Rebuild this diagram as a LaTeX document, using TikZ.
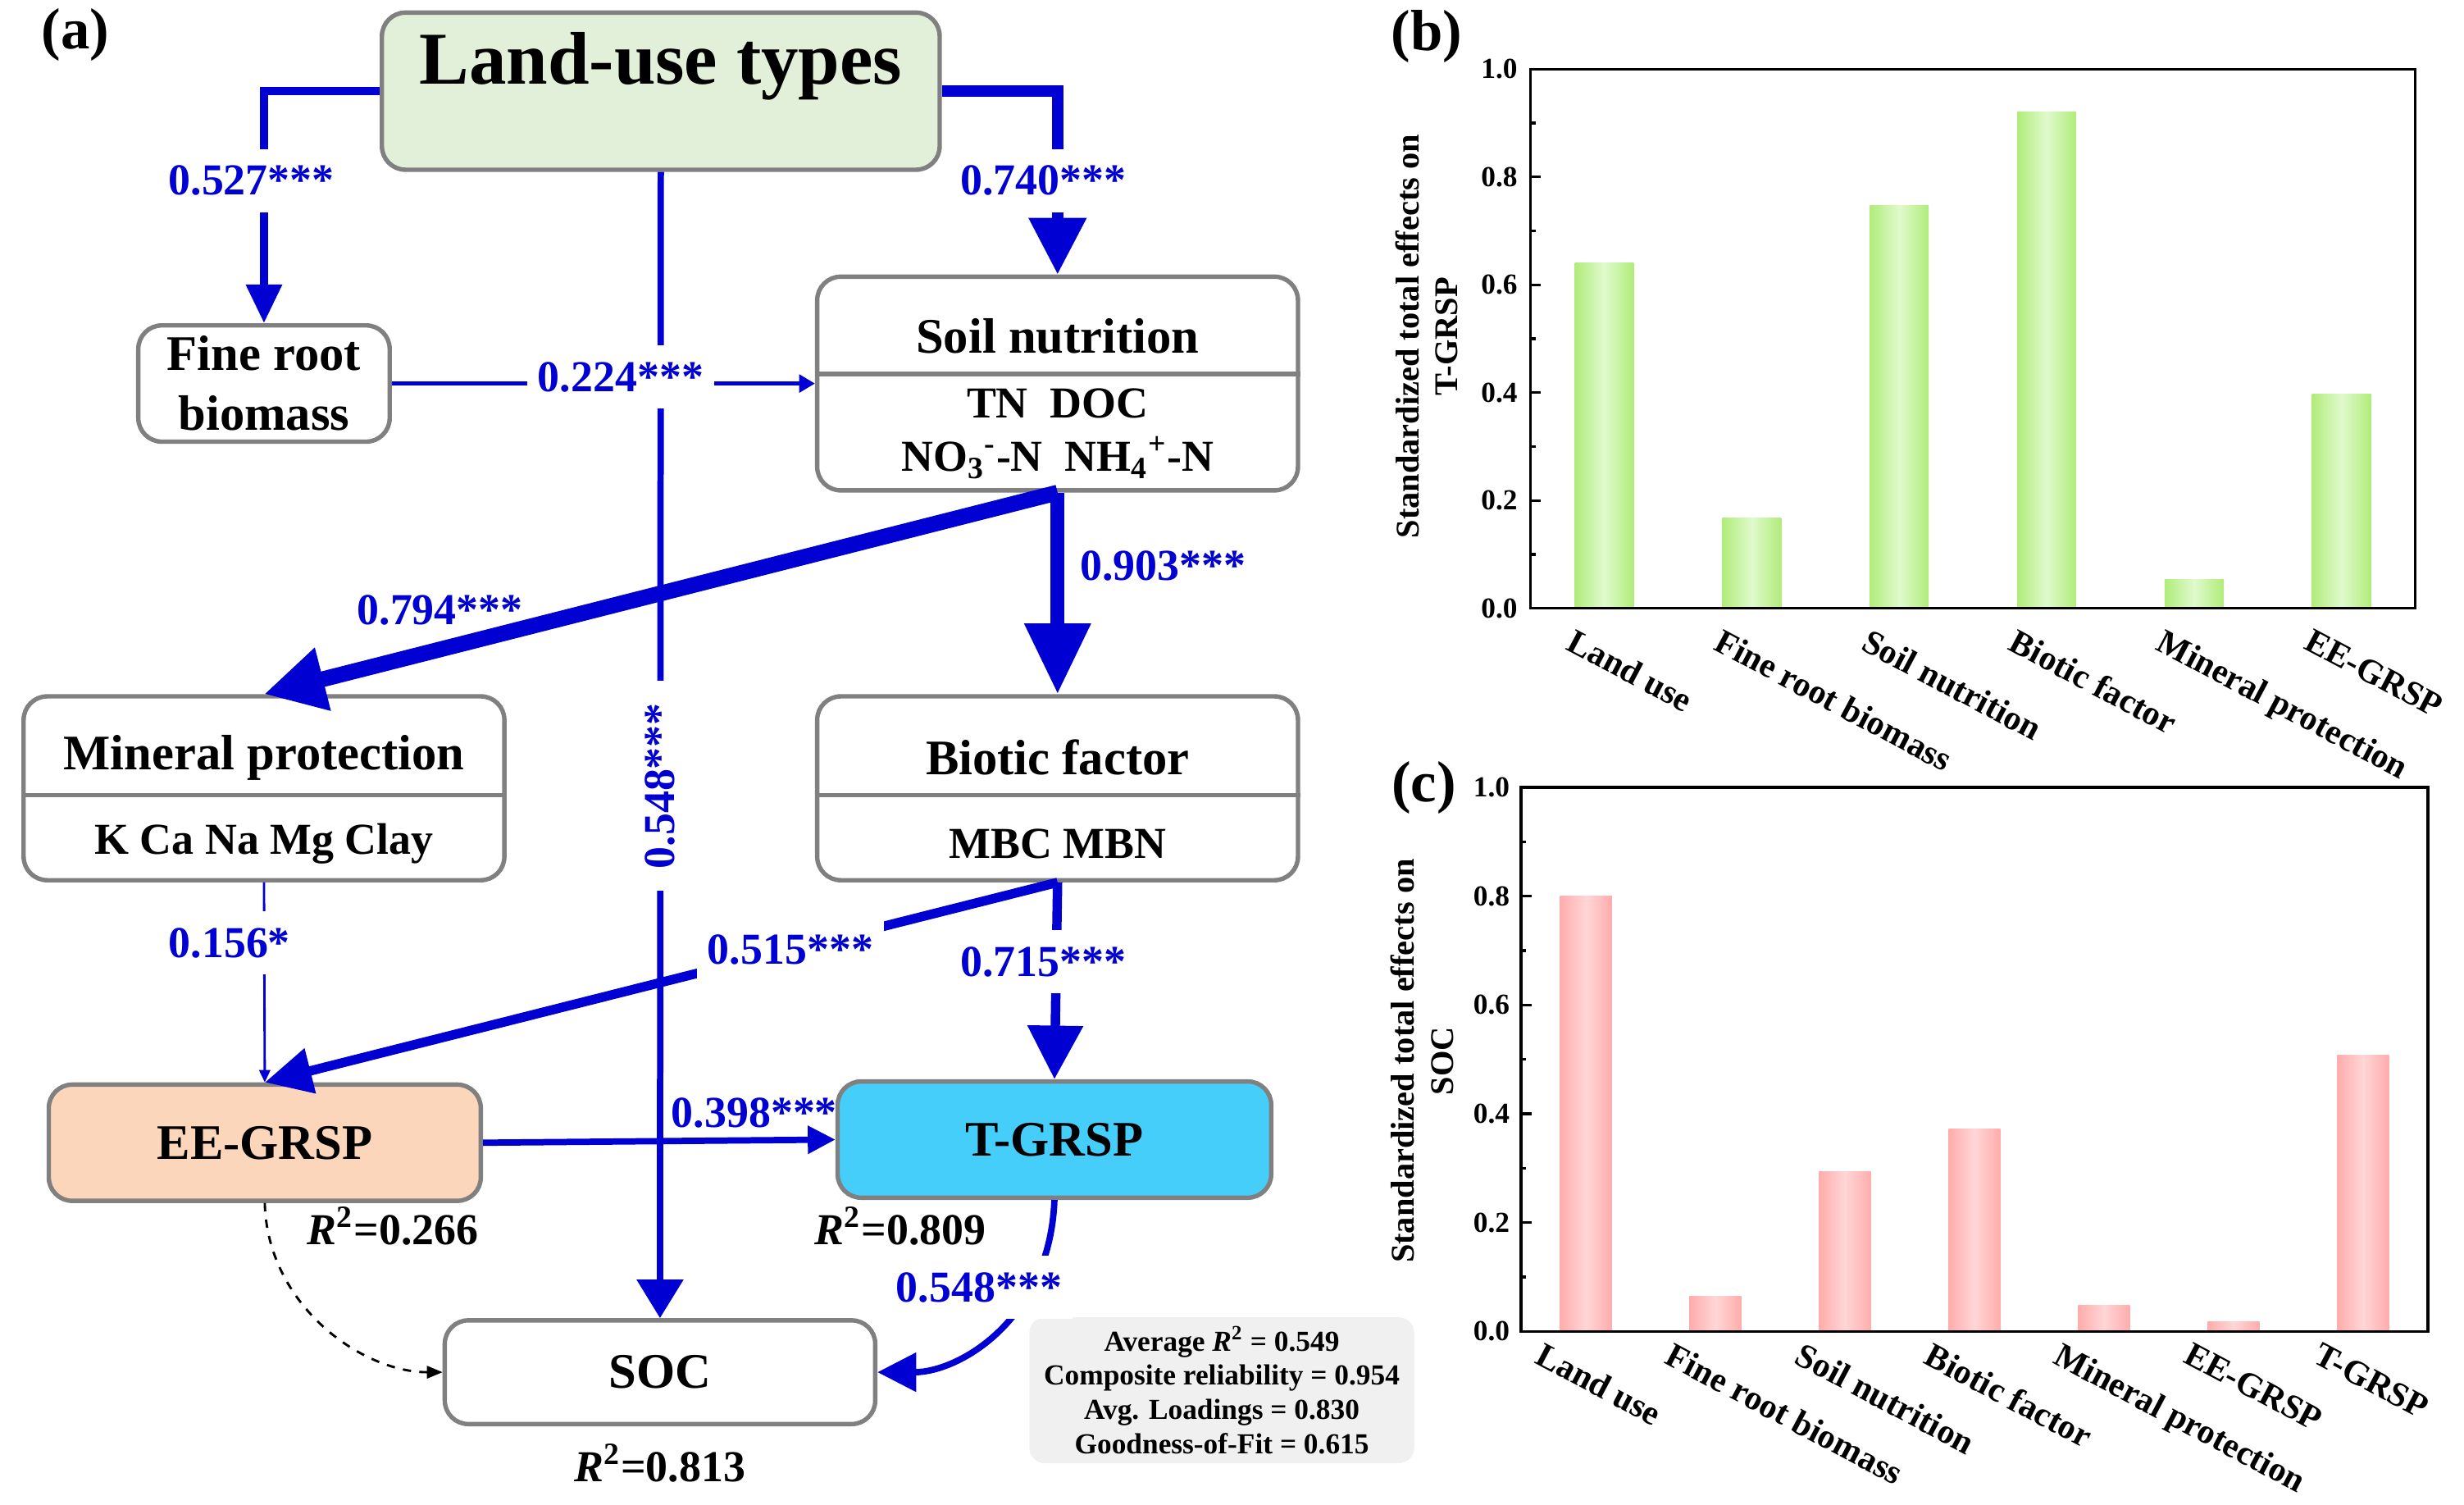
\documentclass[tikz,border=0pt]{standalone}
\usepackage{fontspec}
\setmainfont{Liberation Serif}
\usetikzlibrary{arrows.meta}
\definecolor{pathblue}{RGB}{0,0,210}
\definecolor{landfill}{RGB}{226,240,218}
\definecolor{eefill}{RGB}{251,214,186}
\definecolor{tfill}{RGB}{70,206,250}
\definecolor{boxline}{RGB}{128,128,128}
\definecolor{statfill}{RGB}{240,240,240}
\definecolor{bargreen}{RGB}{176,236,122}
\definecolor{barlightgreen}{RGB}{224,250,204}
\definecolor{barpink}{RGB}{255,172,172}
\definecolor{barlightpink}{RGB}{255,214,214}
\tikzset{
	latent/.style={draw=boxline, line width=1.6pt, rounded corners=0.3cm, inner sep=0pt, align=center, font=\fontsize{18}{21.6}\selectfont\bfseries},
	headtext/.style={font=\fontsize{18}{21.6}\selectfont\bfseries},
	indic/.style={align=center, font=\fontsize{16}{19.3}\selectfont\bfseries},
	coef/.style={text=pathblue, font=\fontsize{16}{19}\selectfont\bfseries},
	gap/.style={fill=white, inner xsep=4pt, inner ysep=6pt},
	rsq/.style={font=\fontsize{16}{19}\selectfont\bfseries},
	lnk/.style={draw=pathblue, line width=#1},
	cut/.style={draw=boxline, line width=1.6pt},
	panel/.style={font=\fontsize{21}{25}\selectfont\bfseries},
	ticklab/.style={anchor=east, inner sep=0pt, font=\fontsize{10.5}{12}\selectfont\bfseries},
	cat/.style={anchor=north west, rotate=-28, inner sep=0pt, font=\fontsize{12.5}{15}\selectfont\bfseries},
	ylab/.style={rotate=90, align=center, font=\fontsize{12}{14}\selectfont\bfseries},
	frame/.style={line width=1pt}
}
\begin{document}
\begin{tikzpicture}[x=0.02cm, y=-0.02cm]
	\useasboundingbox (0,0) rectangle (1568,957);

	\node[panel] (pa) at (48,22) {(a)};
	\node[latent, fill=landfill, minimum width=7.1cm, minimum height=2cm] (land) at (420.5,58) {};
	\node[font=\fontsize{27}{30}\selectfont\bfseries] (landtxt) at (420.5,42) {Land-use types};
	\node[latent, minimum width=3.2cm, minimum height=1.48cm] (fine) at (168,244) {Fine root\\biomass};

	\node[latent, minimum width=6.12cm, minimum height=2.72cm] (soil) at (673,244) {};
	\coordinate (soilcut) at (673,238);
	\draw[cut] (soil.west |- soilcut) -- (soil.east |- soilcut);
	\node[headtext] (soilname) at (673,214) {Soil nutrition};
	\node[indic] (soilvars) at (673,276) {TN\ \ DOC\\NO\textsubscript{3}\textsuperscript{-}-N\ \ NH\textsubscript{4}\textsuperscript{+}-N};

	\node[latent, minimum width=6.12cm, minimum height=2.34cm] (mineral) at (168,501.5) {};
	\coordinate (mineralcut) at (168,506);
	\draw[cut] (mineral.west |- mineralcut) -- (mineral.east |- mineralcut);
	\node[headtext] (mineralname) at (168,482) {Mineral protection};
	\node[indic] (mineralvars) at (168,537) {K Ca Na Mg Clay};

	\node[latent, minimum width=6.12cm, minimum height=2.34cm] (biotic) at (673,501.5) {};
	\coordinate (bioticcut) at (673,506);
	\draw[cut] (biotic.west |- bioticcut) -- (biotic.east |- bioticcut);
	\node[headtext] (bioticname) at (673,482) {Biotic factor};
	\node[indic] (bioticvars) at (673,537) {MBC MBN};

	\node[latent, fill=eefill, minimum width=5.5cm, minimum height=1.48cm] (ee) at (168.5,727) {EE-GRSP};
	\node[latent, fill=tfill, minimum width=5.52cm, minimum height=1.48cm] (tgrsp) at (671,725) {T-GRSP};
	\node[latent, minimum width=5.48cm, minimum height=1.32cm] (soc) at (420,873) {SOC};

	\node[rsq] (r2ee) at (250,780) {\textit{R}\textsuperscript{2}=0.266};
	\node[rsq] (r2t) at (573,780) {\textit{R}\textsuperscript{2}=0.809};
	\node[rsq] (r2soc) at (420,931) {\textit{R}\textsuperscript{2}=0.813};
	\node[fill=statfill, rounded corners=0.2cm, minimum width=4.9cm, minimum height=1.74cm, align=center, font=\fontsize{10.5}{12.4}\selectfont\bfseries] (gof) at (777.5,884.5) {Average \textit{R}\textsuperscript{2} = 0.549\\Composite reliability = 0.954\\Avg. Loadings = 0.830\\Goodness-of-Fit = 0.615};

	\draw[lnk=2.8pt, -{Triangle[length=14pt,width=12.5pt]}] (land.west) -| (fine.north);
	\draw[lnk=4pt, -{Triangle[length=20.5pt,width=20pt]}] (land.east) -| (soil.north);
	\draw[lnk=2.3pt, -{Triangle[length=14pt,width=16.5pt]}] (land.south) -- (soc.north);
	\draw[lnk=1.7pt, -{Triangle[length=5.7pt,width=6.3pt]}] (fine.east) -- (soil.west);
	\draw[lnk=5.7pt, -{Triangle[length=22pt,width=22pt]}] (soil.south) -- (mineral.north);
	\draw[lnk=5.1pt, -{Triangle[length=25.6pt,width=22.8pt]}] (soil.south) -- (biotic.north);
	\draw[lnk=0.85pt, -{Triangle[length=4.5pt,width=4pt]}] (mineral.south) -- (ee.north);
	\draw[lnk=3.4pt, -{Triangle[length=17pt,width=16pt]}] (biotic.south) -- (ee.north);
	\draw[lnk=3.4pt, -{Triangle[length=19.4pt,width=19.4pt]}] (biotic.south) -- (tgrsp.north);
	\draw[lnk=2.3pt, -{Triangle[length=10pt,width=9.7pt]}] (ee.east) -- (tgrsp.west);
	\draw[lnk=2.3pt, -{Triangle[length=14pt,width=13.7pt]}] (tgrsp.south) .. controls (668,840) and (610,873) .. (soc.east);
	\draw[dashed, line width=0.85pt, -{Triangle[length=5.7pt,width=4.5pt]}] (ee.south) .. controls (170,830) and (230,873) .. (soc.west);

	\node[coef, gap] (c1) at (160,115) {0.527***};
	\node[coef, gap] (c2) at (664,115) {0.740***};
	\node[coef, gap] (c3) at (395,240) {0.224***};
	\node[coef, gap, rotate=90, inner xsep=8pt] (c4) at (420,500) {0.548***};
	\node[coef] (c5) at (280,388) {0.794***};
	\node[coef] (c6) at (740,360) {0.903***};
	\node[coef, gap] (c7) at (146,600) {0.156*};
	\node[coef, gap] (c8) at (503,604) {0.515***};
	\node[coef, gap] (c9) at (664,612) {0.715***};
	\node[coef] (c10) at (480,708) {0.398***};
	\node[coef, gap] (c11) at (623,819) {0.548***};

	\node[panel] (pb) at (908,23) {(b)};
	\foreach \v/\lab [count=\i] in {0.640/Land use,0.168/Fine root biomass,0.747/Soil nutrition,0.920/Biotic factor,0.053/Mineral protection,0.398/EE-GRSP}{
		\shade[left color=bargreen, right color=bargreen, middle color=barlightgreen] ({974+(\i-0.5)*93.83-18.75},387) rectangle ++(37.5,{-\v*343});
		\node[cat] at ({974+(\i-0.5)*93.83-18},399) {\lab};
	}
	\foreach \lab [count=\k from 0] in {0.0,0.2,0.4,0.6,0.8,1.0}{
		\draw[frame] (974,{387-\k*68.6}) -- ++(6.6,0);
		\node[ticklab] at (966,{387-\k*68.6}) {\lab};
	}
	\foreach \k in {1,3,5,7,9}
		\draw[frame] (974,{387-\k*34.3}) -- ++(3.3,0);
	\draw[frame] (974,44) rectangle (1537,387);
	\node[ylab] (ylb) at (908,214) {Standardized total effects on\\T-GRSP};

	\node[panel] (pc) at (906,501) {(c)};
	\foreach \v/\lab [count=\i] in {0.800/Land use,0.065/Fine root biomass,0.294/Soil nutrition,0.372/Biotic factor,0.048/Mineral protection,0.017/EE-GRSP,0.508/T-GRSP}{
		\shade[left color=barpink, right color=barpink, middle color=barlightpink] ({968+(\i-0.5)*82.43-16.5},847) rectangle ++(33,{-\v*346});
		\node[cat] at ({968+(\i-0.5)*82.43-26},853) {\lab};
	}
	\foreach \lab [count=\k from 0] in {0.0,0.2,0.4,0.6,0.8,1.0}{
		\draw[frame] (968,{847-\k*69.2}) -- ++(6.6,0);
		\node[ticklab] at (961,{847-\k*69.2}) {\lab};
	}
	\foreach \k in {1,3,5,7,9}
		\draw[frame] (968,{847-\k*34.6}) -- ++(3.3,0);
	\draw[frame] (968,501) rectangle (1545,847);
	\node[ylab] (ylc) at (905,675) {Standardized total effects on\\SOC};
\end{tikzpicture}
\end{document}
